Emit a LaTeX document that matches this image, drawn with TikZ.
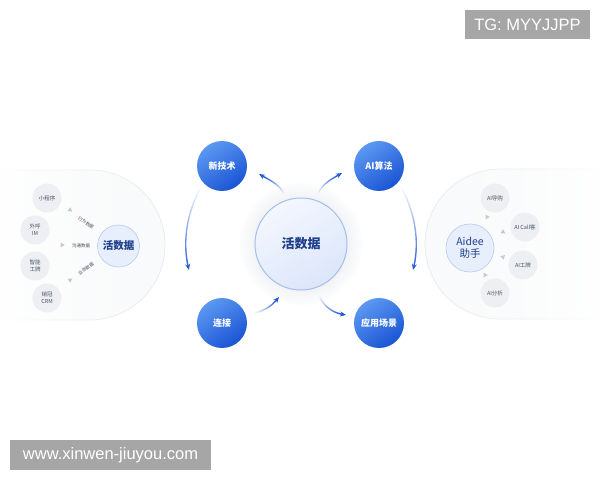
\documentclass[tikz,border=0pt]{standalone}
\usepackage{fontspec}
\setmainfont{Liberation Sans}
\newfontfamily\cjk{Noto Sans CJK SC}
\usetikzlibrary{shapes.geometric,arrows.meta,fadings,calc}
\definecolor{nodeA}{HTML}{5C98F2}
\definecolor{nodeB}{HTML}{1A54D4}
\definecolor{arrowblue}{HTML}{2156D8}
\definecolor{darkblue}{HTML}{1F3F8C}
\definecolor{paleA}{HTML}{F3F7FE}
\definecolor{paleB}{HTML}{DCE6FA}
\definecolor{paleedge}{HTML}{A6BEEA}
\definecolor{smallpale}{HTML}{E8EFFC}
\definecolor{smalledge}{HTML}{B8CAEC}
\definecolor{chip}{HTML}{EDEFF3}
\definecolor{chiptext}{HTML}{4A5466}
\definecolor{panel}{HTML}{F9FAFB}
\definecolor{paneledge}{HTML}{E6E9EE}
\definecolor{halo}{HTML}{DDE3EE}
\definecolor{wm}{HTML}{A6A6A6}
\definecolor{tricol}{HTML}{C3CAD6}
\tikzfading[name=fadeR, left color=transparent!100, right color=transparent!0]
\tikzfading[name=fadeP, left color=transparent!100, right color=transparent!0, middle color=transparent!30]
\begin{document}
\begin{tikzpicture}[x=1pt,y=1pt,
  bluenode/.style={circle, minimum size=50pt, inner sep=0pt, top color=nodeA, bottom color=nodeB, shading angle=35, text=white, font=\cjk\bfseries\fontsize{9}{9}\selectfont},
  chipnode/.style={circle, minimum size=29pt, inner sep=0pt, fill=chip, text=chiptext, align=center, font=\cjk\fontsize{5.5}{6.8}\selectfont},
  trimark/.style={regular polygon, regular polygon sides=3, minimum size=5.5pt, inner sep=0pt, fill=tricol},
  flowarrow/.style={draw=arrowblue, line width=1.4pt, -{Stealth[length=6pt,width=5pt]}, path fading=fadeR},
  lbl/.style={font=\cjk\fontsize{4.5}{5}\selectfont, text=chiptext, inner sep=0pt},
  hubsmall/.style={circle, inner sep=0pt, fill=smallpale, draw=smalledge, line width=0.6pt, text=darkblue, align=center},
  wmbox/.style={fill=wm, text=white, inner sep=0pt, font=\fontsize{16.5}{16.5}\selectfont}
]
\useasboundingbox (0,0) rectangle (600,480);
\fill[white] (0,0) rectangle (600,480);

% side panels
\fill[panel, path fading=fadeP] (0,310) -- (90,310) arc[start angle=90, end angle=-90, radius=75] -- (0,160) -- cycle;
\draw[paneledge, line width=0.7pt, path fading=fadeP] (0,310) -- (90,310) arc[start angle=90, end angle=-90, radius=75] -- (0,160);
\fill[panel, path fading=fadeP, fading angle=180] (600,311) -- (500,311) arc[start angle=90, end angle=270, radius=75] -- (600,161) -- cycle;
\draw[paneledge, line width=0.7pt, path fading=fadeP, fading angle=180] (600,311) -- (500,311) arc[start angle=90, end angle=270, radius=75] -- (600,161);

% halo round the centre
\foreach \r in {61,58,55,52,49}{\fill[halo, opacity=0.08] (301,236) circle (\r);}

% centre and satellites
\node[circle, minimum size=92pt, inner sep=0pt, top color=paleA, bottom color=paleB, shading angle=30, draw=paleedge, line width=1pt, text=darkblue, font=\cjk\bfseries\fontsize{13}{13}\selectfont] (main) at (301,236) {活数据};
\node[bluenode] (xjs) at (222,314) {新技术};
\node[bluenode] (aisf) at (379,314) {AI算法};
\node[bluenode] (lj) at (222,157) {连接};
\node[bluenode] (yycj) at (379,157) {应用场景};

% flow arrows
\coordinate (a1s) at (286,282); \coordinate (a1e) at (259,306);
\coordinate (a2s) at (316,282); \coordinate (a2e) at (342,307);
\coordinate (a3s) at (250,166); \coordinate (a3e) at (279,183);
\coordinate (a4s) at (317,190); \coordinate (a4e) at (346,165);
\draw[flowarrow, fading angle=137] (a1s) to[out=110, in=-30] (a1e);
\draw[flowarrow, fading angle=45] (a2s) to[out=70, in=-150] (a2e);
\draw[flowarrow, fading angle=30] (a3s) to[out=10, in=-130] (a3e);
\draw[flowarrow, fading angle=-42] (a4s) to[out=-75, in=170] (a4e);
\coordinate (la) at ($(main.center)+(150:115)$);
\coordinate (ra) at ($(main.center)+(30:115)$);
\draw[flowarrow, fading angle=-90] (la) arc[start angle=150, end angle=193, radius=115];
\draw[flowarrow, fading angle=-90] (ra) arc[start angle=30, end angle=-13, radius=115];

% left panel
\node[hubsmall, minimum size=42pt, font=\cjk\bfseries\fontsize{10.5}{10.5}\selectfont] (hd) at (118.5,234) {活数据};
\node[chipnode] (c1) at (47,282) {小程序};
\node[chipnode] (c2) at (35,250) {外呼\\IM};
\node[chipnode] (c3) at (35,214) {智能\\工牌};
\node[chipnode] (c4) at (47,182) {销冠\\CRM};
\node[trimark, rotate=-127] (t1) at (70,270) {};
\node[trimark, rotate=-90] (t2) at (62,235) {};
\node[trimark, rotate=-55] (t3) at (70,200) {};
\node[lbl, rotate=-35] (l1) at (86,257) {行为数据};
\node[lbl] (l2) at (81,234) {沟通数据};
\node[lbl, rotate=35] (l3) at (86,211) {业务数据};

% right panel
\node[hubsmall, minimum size=48pt, font=\cjk\fontsize{10.5}{12.5}\selectfont] (ad) at (470,232) {Aidee\\助手};
\node[chipnode] (d1) at (495,282) {AI导购};
\node[chipnode] (d2) at (525,253) {AI Call客};
\node[chipnode] (d3) at (523,215) {AI工牌};
\node[chipnode] (d4) at (495,187) {AI分析};
\node[trimark, rotate=151] (s1) at (487,263) {};
\node[trimark, rotate=116] (s2) at (503,248) {};
\node[trimark, rotate=75] (s3) at (503,223) {};
\node[trimark, rotate=29] (s4) at (485,205) {};

% watermarks
\node[wmbox, minimum width=125pt, minimum height=29pt] (tg) at (527.5,455.5) {TG: MYYJJPP};
\node[wmbox, minimum width=201pt, minimum height=30pt] (www) at (110.5,25) {www.xinwen-jiuyou.com};
\end{tikzpicture}
\end{document}
